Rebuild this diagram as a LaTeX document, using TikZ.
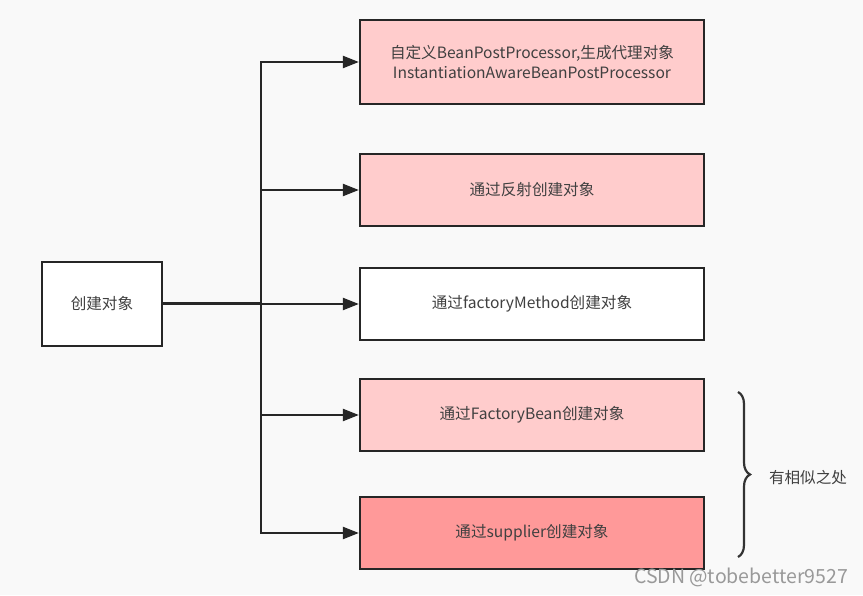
\documentclass[tikz,border=0pt]{standalone}
\usepackage{fontspec}
\setmainfont{Noto Sans CJK SC}
\usetikzlibrary{arrows.meta,positioning,decorations.pathreplacing}
\definecolor{pinkA}{HTML}{FFCCCC}
\definecolor{pinkB}{HTML}{FF9999}
\definecolor{txt}{HTML}{404040}
\definecolor{bg}{HTML}{F9F9F9}

\begin{document}
\begin{tikzpicture}[x=1pt,y=1pt,cell/.style={rectangle,draw=black!85,line width=2.2pt,minimum width=344pt,minimum height=72pt,align=center,text=txt,font=\fontsize{15.6}{20}\selectfont},
	arr/.style={line width=2.2pt,draw=black!85,-{Triangle[length=16pt,width=12pt]}}]
	
	\fill[bg] (0,0) rectangle (863,595);
	\useasboundingbox (0,0) rectangle (863,595);
	
	\node[cell,minimum width=120pt,minimum height=84pt,fill=white] (start) at (102,291) {创建对象};
	
	\node[cell,fill=pinkA,minimum height=84pt] (proxy) at (532,533) {自定义BeanPostProcessor,生成代理对象\\InstantiationAwareBeanPostProcessor};
	\node[cell,fill=pinkA] (reflect) at (532,405) {通过反射创建对象};
	\node[cell,fill=white] (method) at (532,291) {通过factoryMethod创建对象};
	\node[cell,fill=pinkA] (factory) at (532,180) {通过FactoryBean创建对象};
	\node[cell,fill=pinkB] (supplier) at (532,62) {通过supplier创建对象};
	
	\coordinate (fork) at (261,291);
	\draw[line width=3pt,draw=black!85] (start) -- (fork);
	\foreach \n in {proxy,reflect,method,factory,supplier}
		\draw[arr] (fork) |- (\n);
	
	\draw[decorate,decoration={brace,amplitude=12pt},line width=2.2pt,draw=black!80] (738,203) -- (738,38);
	\node[text=txt,font=\fontsize{15.6}{20}\selectfont] (similar) at (808,117) {有相似之处};
	
	\node[text=black!40,font=\fontsize{19.5}{22}\selectfont] (mark) at (741,18) {CSDN @tobebetter9527};
	
\end{tikzpicture}
\end{document}
